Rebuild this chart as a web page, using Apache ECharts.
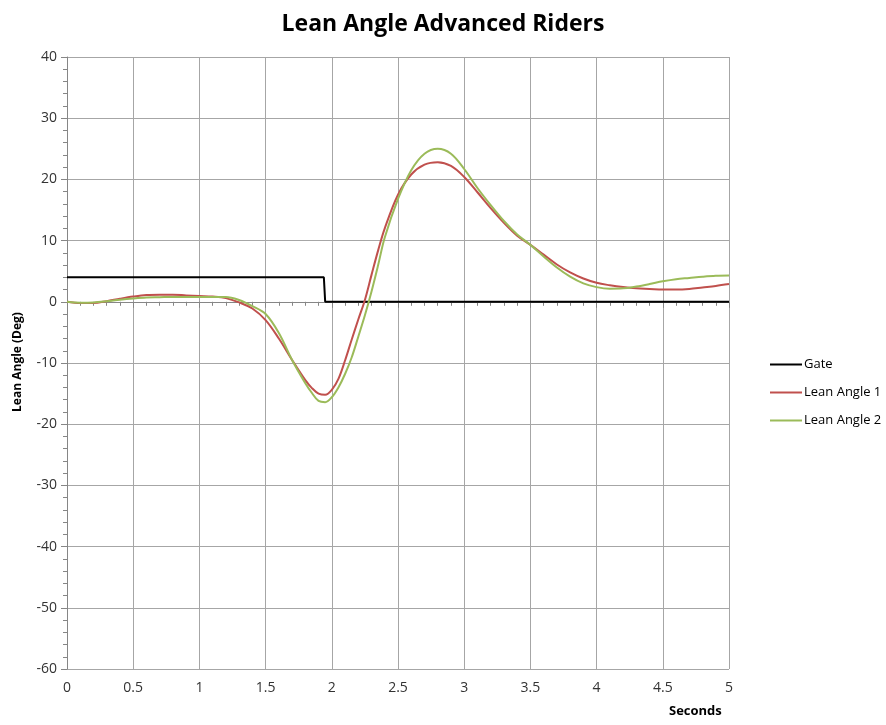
<!DOCTYPE html>
<html>
<head>
<meta charset="utf-8">
<script src="https://cdn.jsdelivr.net/npm/echarts@6/dist/echarts.min.js"></script>
<style>
html,body{margin:0;padding:0;background:#fff;}
#chart{width:886px;height:725px;}
</style>
</head>
<body>
<div id="chart"></div>
<script>
const titleText = 'Lean Angle Advanced Riders';
const xTitle = 'Seconds';
const yTitle = 'Lean Angle (Deg)';
const seriesNames = ['Gate', 'Lean Angle 1', 'Lean Angle 2'];

const gateTime = [0, 1.94, 1.95, 5];
const gateValue = [4, 4, 0, 0];

const leanTime = [0, 0.1, 0.2, 0.3, 0.4, 0.5, 0.6, 0.7, 0.8, 0.9, 1.0, 1.1, 1.2, 1.3, 1.4, 1.5, 1.6, 1.7, 1.8, 1.85, 1.9, 1.95, 2.0, 2.05, 2.1, 2.15, 2.2, 2.25, 2.3, 2.35, 2.4, 2.5, 2.6, 2.7, 2.8, 2.9, 3.0, 3.1, 3.2, 3.3, 3.4, 3.5, 3.6, 3.7, 3.8, 3.9, 4.0, 4.1, 4.2, 4.3, 4.4, 4.5, 4.6, 4.7, 4.8, 4.9, 5.0];
const lean1 = [0, -0.2, -0.2, 0.1, 0.5, 0.85, 1.1, 1.15, 1.15, 1.05, 0.95, 0.85, 0.6, -0.1, -1.1, -3.0, -6.0, -9.5, -12.8, -14.1, -15.0, -15.2, -14.4, -12.6, -9.6, -6.2, -2.9, 0.3, 4.4, 8.4, 12.0, 17.5, 20.8, 22.4, 22.8, 22.2, 20.4, 17.9, 15.3, 12.9, 10.8, 9.3, 7.7, 6.1, 4.8, 3.8, 3.1, 2.7, 2.4, 2.2, 2.1, 2.0, 2.0, 2.1, 2.35, 2.6, 2.9];
const lean2 = [0, -0.15, -0.1, 0.1, 0.35, 0.55, 0.7, 0.75, 0.8, 0.8, 0.8, 0.8, 0.8, 0.3, -0.7, -2.0, -5.1, -9.5, -13.3, -14.9, -16.2, -16.4, -15.6, -14.0, -11.8, -9.1, -5.7, -2.2, 1.7, 6.0, 10.5, 16.8, 21.5, 24.2, 25.0, 24.2, 21.7, 18.6, 15.8, 13.2, 11.0, 9.3, 7.4, 5.6, 4.1, 3.0, 2.4, 2.15, 2.2, 2.5, 2.9, 3.35, 3.7, 3.9, 4.1, 4.25, 4.3];

const xMin = 0, xMax = 5, xInterval = 0.5;
const yMin = -60, yMax = 40, yInterval = 10;

const pair = (xs, ys) => xs.map((x, i) => [x, ys[i]]);
const font = '"Open Sans", "Liberation Sans", sans-serif';
const axisGray = '#868686';
const gridGray = '#A6A6A6';

const chart = echarts.init(document.getElementById('chart'));
chart.setOption({
  animation: false,
  backgroundColor: '#fff',
  textStyle: {fontFamily: font},
  title: {
    text: titleText, left: 'center', top: 8,
    textStyle: {fontFamily: font, fontSize: 23, fontWeight: 'bold', color: '#000'}
  },
  grid: {left: 67, right: 157, top: 57, bottom: 56, containLabel: false},
  legend: {
    orient: 'vertical', left: 765, top: 353,
    itemWidth: 32, itemHeight: 2, itemGap: 15, icon: 'rect',
    textStyle: {fontFamily: font, fontSize: 13, color: '#000', padding: [0, 0, 0, -3]},
    data: seriesNames
  },
  xAxis: {
    type: 'value', min: xMin, max: xMax, interval: xInterval,
    axisLine: {show: true, lineStyle: {color: axisGray}},
    axisTick: {show: true, length: 6, lineStyle: {color: axisGray}},
    minorTick: {show: true, splitNumber: 5, length: 4, lineStyle: {color: axisGray}},
    splitLine: {show: true, lineStyle: {color: gridGray, width: 1}},
    axisLabel: {fontFamily: font, fontSize: 14, color: '#333', margin: 12}
  },
  yAxis: {
    type: 'value', min: yMin, max: yMax, interval: yInterval,
    axisLine: {show: true, onZero: false, lineStyle: {color: axisGray}},
    axisTick: {show: true, length: 6, lineStyle: {color: axisGray}},
    minorTick: {show: true, splitNumber: 5, length: 4, lineStyle: {color: axisGray}},
    splitLine: {show: true, lineStyle: {color: gridGray, width: 1}},
    axisLabel: {fontFamily: font, fontSize: 14, color: '#333', margin: 10}
  },
  graphic: [
    {type: 'text', left: 669, top: 705,
     style: {text: xTitle, font: 'bold 13px ' + font, fill: '#000'}},
    {type: 'text', x: 18, y: 362, rotation: Math.PI / 2,
     style: {text: yTitle, font: 'bold 12px ' + font, fill: '#000', align: 'center', verticalAlign: 'middle'}}
  ],
  series: [
    {name: seriesNames[0], type: 'line', data: pair(gateTime, gateValue), showSymbol: false,
     lineStyle: {color: '#000', width: 2}, itemStyle: {color: '#000'}},
    {name: seriesNames[1], type: 'line', data: pair(leanTime, lean1), showSymbol: false, smooth: 0.35,
     lineStyle: {color: '#C0504D', width: 2}, itemStyle: {color: '#C0504D'}},
    {name: seriesNames[2], type: 'line', data: pair(leanTime, lean2), showSymbol: false, smooth: 0.35,
     lineStyle: {color: '#9BBB59', width: 2}, itemStyle: {color: '#9BBB59'}}
  ]
});
</script>
</body>
</html>
